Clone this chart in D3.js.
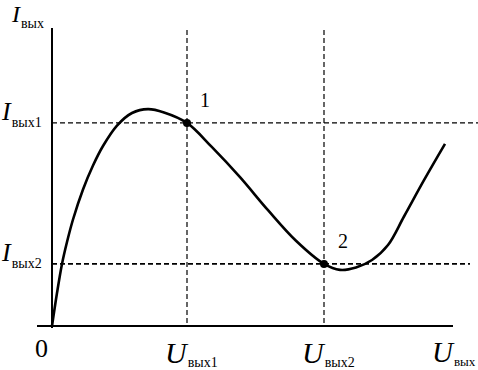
<!DOCTYPE html>
<html>
<head>
<meta charset="utf-8">
<script src="https://cdn.jsdelivr.net/npm/d3@7"></script>
<style>
  body { margin: 0; background: #fff; }
  text { font-family: "Liberation Serif", "Times New Roman", serif; fill: #000; }
</style>
</head>
<body>
<svg id="chart"></svg>
<script>
// curve (U, I in arbitrary units 0..100)
var curveU = [0, 1.25, 2.5, 3.75, 5.25, 7.75, 10.25, 12.75, 16.25, 20, 24, 28, 33.75, 40, 47, 54, 61, 68, 72, 76, 80, 84, 88, 93, 98.25];
var curveI = [0, 11, 20.7, 28, 35.5, 45.5, 53.5, 60, 66.8, 71, 72.3, 71.2, 67.7, 59.6, 49.6, 38.6, 28.4, 20.7, 18.7, 19.5, 22, 27, 36.5, 48.6, 60.7];

// operating points 1 and 2
var pointNames = ['1', '2'];
var pointU = [33.75, 68];
var pointI = [67.7, 20.7];

// axis labels (main letter + subscript)
var uTickLabels = [['U', 'вых1'], ['U', 'вых2']];
var iTickLabels = [['I', 'вых1'], ['I', 'вых2']];

var width = 478, height = 370;
var svg = d3.select('#chart').attr('width', width).attr('height', height);

var x = d3.scaleLinear().domain([0, 100]).range([52, 452]);
var y = d3.scaleLinear().domain([0, 100]).range([326, 26]);

// dashed guide lines
svg.selectAll('.vguide')
  .data(pointU)
  .enter().append('line')
  .attr('x1', function (d) { return x(d); })
  .attr('x2', function (d) { return x(d); })
  .attr('y1', 30).attr('y2', y(0))
  .attr('stroke', '#000').attr('stroke-width', 1.2)
  .attr('stroke-dasharray', '5,3');

svg.selectAll('.hguide')
  .data(pointI)
  .enter().append('line')
  .attr('x1', x(0))
  .attr('x2', function (d, i) { return i == 0 ? 478 : 470; })
  .attr('y1', function (d) { return y(d); })
  .attr('y2', function (d) { return y(d); })
  .attr('stroke', '#000')
  .attr('stroke-width', function (d, i) { return i == 0 ? 1.2 : 1.8; })
  .attr('stroke-dasharray', '5,3');

// axes
svg.append('line')
  .attr('x1', x(0)).attr('x2', x(0))
  .attr('y1', 28).attr('y2', y(0) + 2)
  .attr('stroke', '#000').attr('stroke-width', 2);

svg.append('line')
  .attr('x1', 37).attr('x2', 453)
  .attr('y1', y(0)).attr('y2', y(0))
  .attr('stroke', '#000').attr('stroke-width', 2.2);

// the curve
var curveData = curveU.map(function (u, i) { return [u, curveI[i]]; });
var line = d3.line()
  .x(function (d) { return x(d[0]); })
  .y(function (d) { return y(d[1]); })
  .curve(d3.curveCatmullRom.alpha(0.5));

svg.append('path')
  .datum(curveData)
  .attr('d', line)
  .attr('fill', 'none')
  .attr('stroke', '#000')
  .attr('stroke-width', 2.6)
  .attr('stroke-linejoin', 'round');

// points
svg.selectAll('.pt')
  .data(pointU)
  .enter().append('circle')
  .attr('cx', function (d) { return x(d); })
  .attr('cy', function (d, i) { return y(pointI[i]); })
  .attr('r', 4)
  .attr('fill', '#000');

svg.selectAll('.ptlabel')
  .data(pointNames)
  .enter().append('text')
  .attr('x', function (d, i) { return x(pointU[i]) + (i == 0 ? 13 : 14); })
  .attr('y', function (d, i) { return y(pointI[i]) - 16; })
  .attr('font-size', 20)
  .text(function (d) { return d; });

// label helper: big italic letter with a small upright subscript
function subLabel(px, py, main, sub, size, subSize, dy) {
  var t = svg.append('text').attr('x', px).attr('y', py);
  t.append('tspan')
    .attr('font-style', 'italic')
    .attr('font-size', size)
    .text(main);
  t.append('tspan')
    .attr('font-size', subSize)
    .attr('dx', 1)
    .attr('dy', dy)
    .text(sub);
  return t;
}

// y axis title and tick labels
subLabel(12, 21.5, 'I', 'вых', 24, 14, 6);
iTickLabels.forEach(function (l, i) {
  subLabel(2, y(pointI[i]) - 3, l[0], l[1], 26, 14, 7);
});

// x tick labels and title
uTickLabels.forEach(function (l, i) {
  subLabel(x(pointU[i]) - 22, 363, l[0], l[1], 30, 14, 4);
});
subLabel(432, 362, 'U', 'вых', 29, 13, 4);

svg.append('text')
  .attr('x', 35).attr('y', 357)
  .attr('font-size', 26)
  .text('0');
</script>
</body>
</html>
